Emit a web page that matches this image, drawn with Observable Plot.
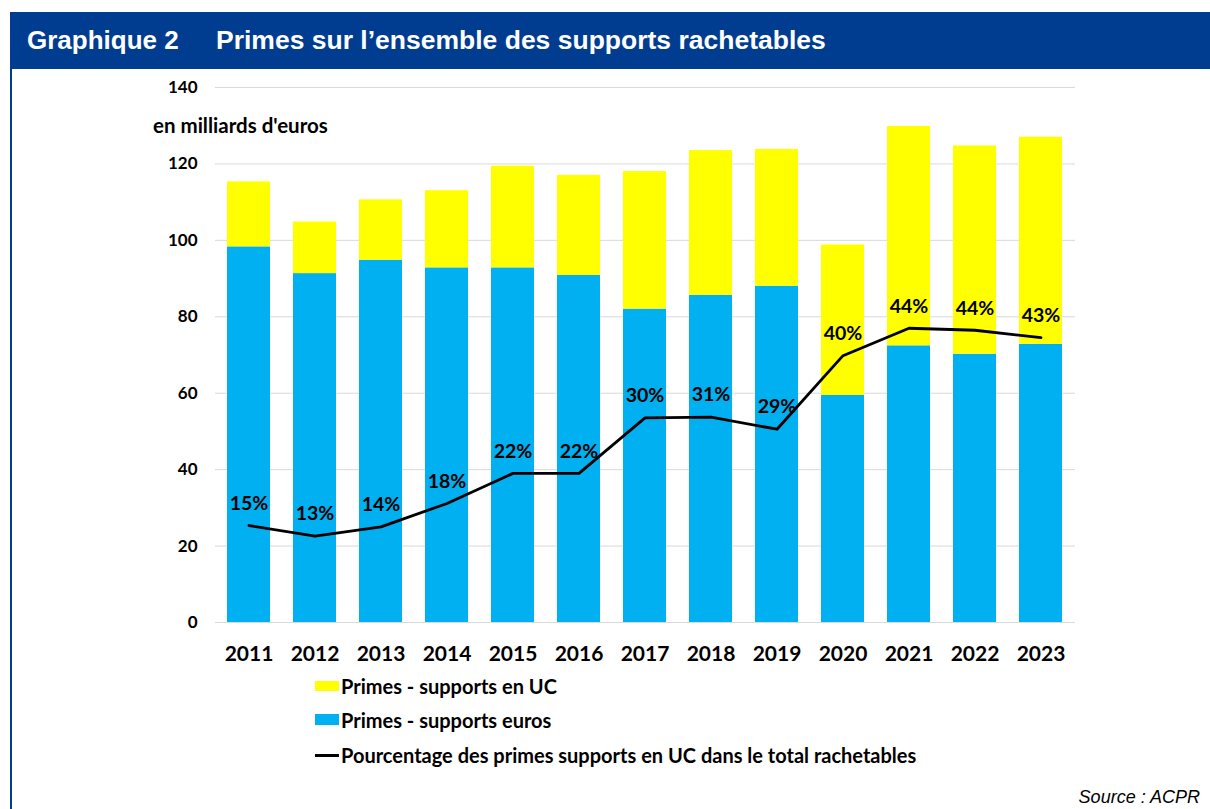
<!DOCTYPE html>
<html><head><meta charset="utf-8">
<script src="https://cdn.jsdelivr.net/npm/d3@7"></script>
<script src="https://cdn.jsdelivr.net/npm/@observablehq/plot@0.6"></script>
<style>
body{margin:0;background:#fff;width:1210px;height:809px;position:relative;overflow:hidden;font-family:Lato,"DejaVu Sans",sans-serif}
#header{position:absolute;left:10px;top:12px;width:1200px;height:57px;background:#003C8F;color:#fff;font:bold 26px "Liberation Sans",Arial,sans-serif;line-height:57px;white-space:nowrap}
#header span{position:absolute;top:0}
#border{position:absolute;left:10px;top:12px;width:2px;height:797px;background:#003C8F}
#chart{position:absolute;left:0;top:0}
#unit{position:absolute;left:153px;top:112px;font:bold 20.5px Lato,sans-serif;line-height:26px;white-space:nowrap;color:#000}
.leg{position:absolute;left:315px;width:24px}
.legt{position:absolute;left:341px;font:bold 20px Lato,sans-serif;line-height:26px;white-space:nowrap;color:#000}
#source{position:absolute;right:10px;top:785px;font:italic 18px "Liberation Sans",Arial,sans-serif;line-height:24px;color:#000}
</style></head>
<body>
<div id="header"><span style="left:17px">Graphique 2</span><span style="left:206px;font-size:26.5px">Primes sur l’ensemble des supports rachetables</span></div>
<div id="border"></div>
<div id="chart"></div>
<div id="unit">en milliards d'euros</div>
<div class="leg" style="top:681px;height:10px;background:#FFFF00"></div>
<div class="legt" style="top:673px">Primes - supports en UC</div>
<div class="leg" style="top:714px;height:11px;background:#00B0F0"></div>
<div class="legt" style="top:707px">Primes - supports euros</div>
<div class="leg" style="top:754px;height:3px;background:#000"></div>
<div class="legt" style="top:742px">Pourcentage des primes supports en UC dans le total rachetables</div>
<div id="source">Source : ACPR</div>
<script>
const years = ["2011","2012","2013","2014","2015","2016","2017","2018","2019","2020","2021","2022","2023"];
const totalPrimes = [115.3,104.8,110.6,113.0,119.4,117.0,118.0,123.5,123.8,98.8,129.8,124.7,127.0];
const eurosPrimes = [98.3,91.3,94.8,92.8,92.8,90.8,82.0,85.6,88.0,59.4,72.4,70.2,72.8];
const ucShare = [14.5,12.9,14.3,17.8,22.3,22.3,30.6,30.7,28.9,39.9,44.0,43.7,42.6];
const ucShareLabels = ["15%","13%","14%","18%","22%","22%","30%","31%","29%","40%","44%","44%","43%"];
const yTicks = [0,20,40,60,80,100,120,140];
const primaryMax = 140, secondaryMax = 80;

const rows = years.map((y,i)=>({year:y, euros:eurosPrimes[i], total:totalPrimes[i], share:ucShare[i]*primaryMax/secondaryMax, label:ucShareLabels[i]}));

const chart = Plot.plot({
  width:1210, height:680,
  marginLeft:215, marginRight:135, marginTop:87, marginBottom:58,
  style:{fontFamily:"Lato, sans-serif", background:"transparent"},
  x:{domain:years, paddingInner:0.345, paddingOuter:0.1725, axis:null},
  y:{domain:[0,primaryMax], axis:null},
  marks:[
    Plot.ruleY(yTicks,{stroke:"#d9d9d9", strokeWidth:1}),
    Plot.barY(rows,{x:"year", y1:0, y2:"euros", fill:"#00B0F0"}),
    Plot.barY(rows,{x:"year", y1:"euros", y2:"total", fill:"#FFFF00"}),
    Plot.line(rows,{x:"year", y:"share", stroke:"#000", strokeWidth:2.8}),
    Plot.text(rows,{x:"year", y:"share", text:"label", dy:-22, fontSize:19.5, fontWeight:"bold", fill:"#000"}),
    Plot.axisY(yTicks,{tickSize:0, tickPadding:18, fontSize:17, fontWeight:"bold", fill:"#000", label:null}),
    Plot.axisX(years,{tickSize:0, tickPadding:24, fontSize:21, fontWeight:"bold", fill:"#000", label:null})
  ]
});
document.getElementById("chart").appendChild(chart);
</script>
</body></html>
